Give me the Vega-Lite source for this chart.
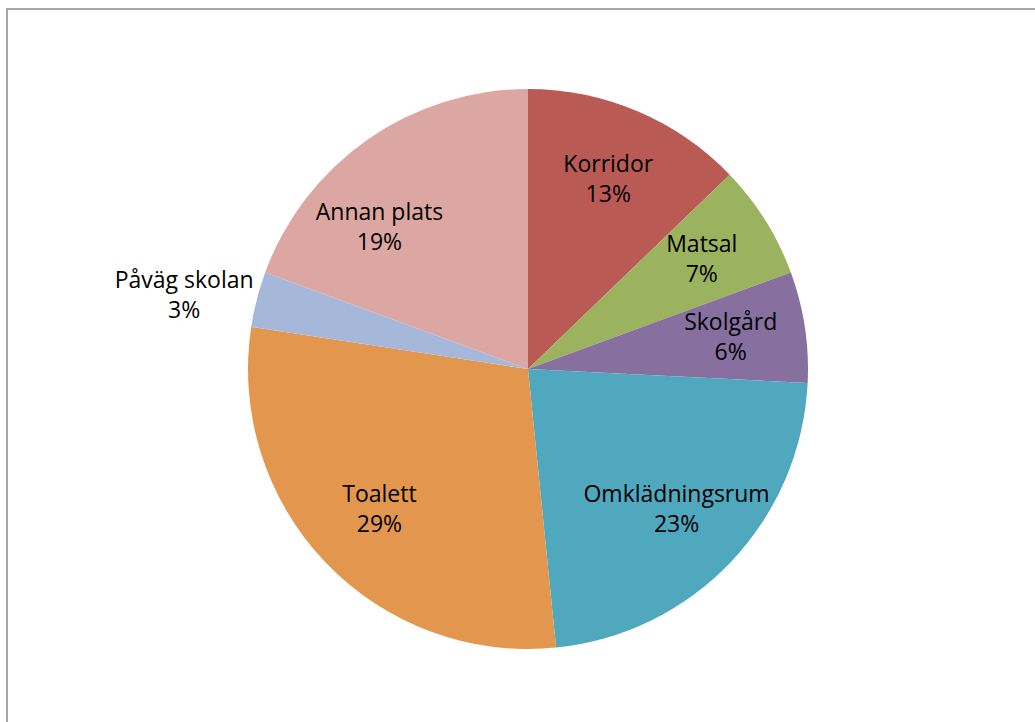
{
  "$schema": "https://vega.github.io/schema/vega-lite/v6.json",
  "autosize": "none",
  "padding": {"left": 7, "top": 9, "right": 0, "bottom": 0},
  "width": 1042,
  "height": 720,
  "background": "white",
  "view": {"stroke": "#a6a6a6", "strokeWidth": 2, "fill": "white"},
  "config": {"view": {"stroke": "#a6a6a6", "strokeWidth": 2}},
  "data": {
    "values": [
      {"rank": 1, "category": "Korridor", "value": 12.8},
      {"rank": 2, "category": "Matsal", "value": 6.6},
      {"rank": 3, "category": "Skolgård", "value": 6.4},
      {"rank": 4, "category": "Omklädningsrum", "value": 22.6},
      {"rank": 5, "category": "Toalett", "value": 29.0},
      {"rank": 6, "category": "Påväg skolan", "value": 3.2},
      {"rank": 7, "category": "Annan plats", "value": 19.4}
    ]
  },
  "transform": [
    {"calculate": "datum.category + '\\n' + format(datum.value / 100, '.0%')", "as": "label"}
  ],
  "encoding": {
    "theta": {"field": "value", "type": "quantitative", "stack": true},
    "order": {"field": "rank", "type": "quantitative", "sort": "ascending"}
  },
  "layer": [
    {
      "mark": {"type": "arc", "outerRadius": 280},
      "encoding": {
        "color": {
          "field": "category",
          "type": "nominal",
          "legend": null,
          "scale": {
            "domain": ["Korridor", "Matsal", "Skolgård", "Omklädningsrum", "Toalett", "Påväg skolan", "Annan plats"],
            "range": ["#b95a55", "#9bb25e", "#8770a0", "#4fa8be", "#e3974e", "#a5b8da", "#dca7a3"]
          }
        }
      }
    },
    {
      "transform": [{"filter": "datum.category !== 'Påväg skolan'"}],
      "mark": {"type": "text", "radius": 205, "dy": -15, "font": "Open Sans", "fontSize": 23, "lineBreak": "\n", "lineHeight": 30, "color": "black", "align": "center", "baseline": "middle"},
      "encoding": {"text": {"field": "label"}}
    },
    {
      "mark": {"type": "text", "radius": 355, "font": "Open Sans", "fontSize": 23, "lineBreak": "\n", "lineHeight": 30, "color": "black", "align": "center", "baseline": "middle"},
      "encoding": {
        "text": {"field": "label"},
        "opacity": {"condition": {"test": "datum.category === 'Påväg skolan'", "value": 1}, "value": 0}
      }
    }
  ]
}
